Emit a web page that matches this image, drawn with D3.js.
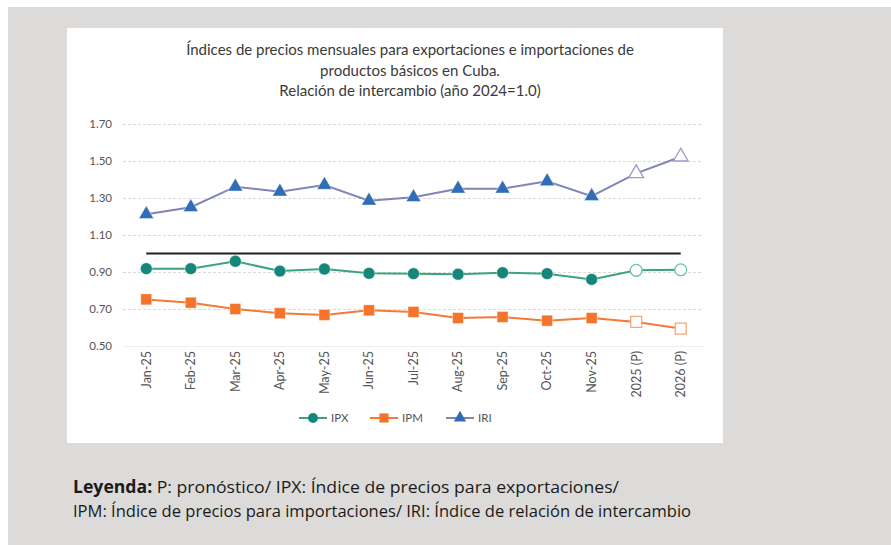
<!DOCTYPE html>
<html><head><meta charset="utf-8">
<script src="https://cdn.jsdelivr.net/npm/d3@7"></script>
<style>
html,body{margin:0;padding:0;background:#fff;}
svg{display:block;}
</style></head>
<body>
<svg id="c" width="891" height="545"></svg>
<script>
const categories = ["Jan-25","Feb-25","Mar-25","Apr-25","May-25","Jun-25","Jul-25","Aug-25","Sep-25","Oct-25","Nov-25","2025 (P)","2026 (P)"];
const forecastFrom = 11; // index of first forecast category
const ipx = [0.918,0.918,0.958,0.905,0.916,0.893,0.891,0.888,0.896,0.891,0.860,0.909,0.912];
const ipm = [0.752,0.734,0.700,0.677,0.668,0.693,0.684,0.651,0.657,0.637,0.651,0.630,0.594];
const iri = [1.212,1.250,1.361,1.334,1.370,1.285,1.304,1.350,1.350,1.390,1.310,1.433,1.523];
const baseline = 1.0;
const yTicks = [0.50,0.70,0.90,1.10,1.30,1.50,1.70];
const titleLines = ["Índices de precios mensuales para exportaciones e importaciones de","productos básicos en Cuba.","Relación de intercambio (año 2024=1.0)"];
const legendNames = ["IPX","IPM","IRI"];

const svg = d3.select("#c");
// background
svg.append("rect").attr("x",8).attr("y",7).attr("width",883).attr("height",538).attr("fill","#dcdbd9");
svg.append("rect").attr("x",67).attr("y",28).attr("width",656).attr("height",415).attr("fill","#ffffff");

const font = "Lato, 'Open Sans', sans-serif";
const x = d3.scaleBand().domain(categories).range([124,703]);
const y = d3.scaleLinear().domain([0.5,1.7]).range([346,124]);
const cx = (d,i) => x(categories[i]) + x.bandwidth()/2;

// title
svg.append("g").selectAll("text").data(titleLines).join("text")
  .attr("x",410).attr("y",(d,i)=>55+i*20.5)
  .attr("text-anchor","middle").attr("font-family",font).attr("font-size",15)
  .attr("fill","#3a3a3a").text(d=>d);

// y grid + labels
const yAxis = svg.append("g").attr("transform","translate(123,0)")
  .call(d3.axisLeft(y).tickValues(yTicks).tickFormat(d3.format(".2f")).tickSize(-580).tickPadding(11));
yAxis.select(".domain").remove();
yAxis.selectAll(".tick line").attr("stroke","#d9d9d9").attr("stroke-dasharray","3,2");
yAxis.selectAll(".tick").filter(d=>d===0.5).select("line").attr("stroke","#eeeeee").attr("stroke-dasharray",null);
yAxis.selectAll("text").attr("font-family",font).attr("font-size",11.5).attr("fill","#555555");

// x labels
const xAxis = svg.append("g").attr("transform","translate(0,346)")
  .call(d3.axisBottom(x).tickSize(0).tickPadding(0));
xAxis.select(".domain").remove();
xAxis.selectAll("text").attr("font-family",font).attr("font-size",12.5).attr("fill","#555555")
  .attr("transform","rotate(-90)").attr("text-anchor","end").attr("x",-5).attr("y",0).attr("dy","0.35em");

// baseline 1.0
svg.append("line").attr("x1",cx(null,0)).attr("x2",cx(null,categories.length-1))
  .attr("y1",y(baseline)).attr("y2",y(baseline)).attr("stroke","#1f1f1f").attr("stroke-width",2);

const series = [
  {name:"IPX", vals:ipx, line:"#3aa57a", mark:"#14877a", light:"#6cc49c", shape:d3.symbolCircle, size:110},
  {name:"IPM", vals:ipm, line:"#f47a35", mark:"#f4742b", light:"#f8a877", shape:d3.symbolSquare, size:120},
  {name:"IRI", vals:iri, line:"#8084b9", mark:"#2f6eb6", light:"#9a9dc9", shape:d3.symbolTriangle, size:95}
];
const lineGen = d3.line().x((d,i)=>cx(d,i)).y(d=>y(d));
series.forEach(s=>{
  svg.append("path").datum(s.vals).attr("d",lineGen).attr("fill","none")
    .attr("stroke",s.line).attr("stroke-width",2);
  svg.append("g").selectAll("path").data(s.vals).join("path")
    .attr("transform",(d,i)=>`translate(${cx(d,i)},${y(d)})`)
    .attr("d",d3.symbol().type(s.shape).size(s.size))
    .attr("fill",(d,i)=> i>=forecastFrom ? "#ffffff" : s.mark)
    .attr("stroke",(d,i)=> i>=forecastFrom ? s.light : "#ffffff")
    .attr("stroke-opacity",(d,i)=> i>=forecastFrom ? 1 : 0.4)
    .attr("stroke-width",(d,i)=> i>=forecastFrom ? 1.3 : 1);
});

// legend
const legX = [299,370,446];
series.forEach((s,k)=>{
  const g = svg.append("g").attr("transform",`translate(${legX[k]},418)`);
  g.append("line").attr("x1",0).attr("x2",28).attr("stroke",s.line).attr("stroke-width",2);
  g.append("path").attr("transform","translate(14,0)").attr("d",d3.symbol().type(s.shape).size(s.size*0.7)).attr("fill",s.mark);
  g.append("text").attr("x",32).attr("dy","0.35em").attr("font-family",font).attr("font-size",11.5)
    .attr("fill","#555555").text(legendNames[k]);
});

// footer
const foot = svg.append("g").attr("font-family","'Liberation Sans Narrow','Open Sans',sans-serif").attr("font-size",17).attr("fill","#1a1a1a");
const t1 = foot.append("text").attr("x",73).attr("y",493).attr("textLength",546).attr("lengthAdjust","spacingAndGlyphs");
t1.append("tspan").attr("font-weight","bold").text("Leyenda:");
t1.append("tspan").text(" P: pronóstico/ IPX: Índice de precios para exportaciones/");
foot.append("text").attr("x",73).attr("y",517).attr("textLength",618).attr("lengthAdjust","spacingAndGlyphs")
  .text("IPM: Índice de precios para importaciones/ IRI: Índice de relación de intercambio");
</script>
</body></html>
